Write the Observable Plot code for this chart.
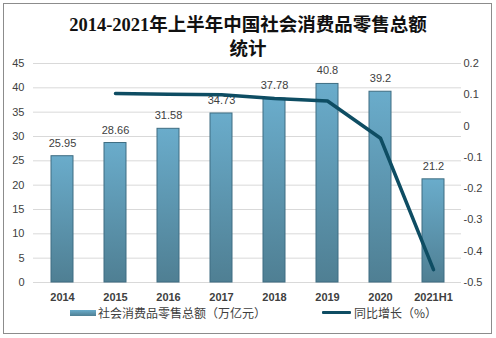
<!DOCTYPE html>
<html>
<head>
<meta charset="utf-8">
<script src="https://cdn.jsdelivr.net/npm/d3@7"></script>
<script src="https://cdn.jsdelivr.net/npm/@observablehq/plot@0.6"></script>
<style>
  html, body { margin: 0; padding: 0; background: #fff; }
  body { width: 496px; height: 338px; position: relative; overflow: hidden; font-family: "Noto Sans CJK SC", "Liberation Sans", sans-serif; }
  #frame { position: absolute; left: 3px; top: 3px; width: 487px; height: 329px; border: 1px solid #8c8c8c; }
  #title { position: absolute; left: 0; top: 13px; width: 496px; text-align: center; font-family: "Liberation Serif", "Noto Sans CJK SC", serif; font-weight: bold; font-size: 18.5px; line-height: 24px; color: #111; }
  #chart { position: absolute; left: 0; top: 50px; }
  .legend { position: absolute; top: 304px; font-size: 12px; color: #404040; line-height: 18px; white-space: nowrap; }
  .sw-bar { position: absolute; left: 70px; top: 310px; width: 26px; height: 6px; background: linear-gradient(#6aaccb, #4f7f93); border: 0; }
  .sw-line { position: absolute; left: 322px; top: 311px; width: 29px; height: 3px; background: #0e4d63; border-radius: 1px; }
</style>
</head>
<body>
<div id="frame"></div>
<div id="title">2014-2021年上半年中国社会消费品零售总额<br>统计</div>
<div id="chart"></div>
<div class="sw-bar"></div>
<div class="legend" style="left:98px">社会消费品零售总额（万亿元）</div>
<div class="sw-line"></div>
<div class="legend" style="left:354px">同比增长（%）</div>
<script>
const categories = ["2014", "2015", "2016", "2017", "2018", "2019", "2020", "2021H1"];
const totals = [25.95, 28.66, 31.58, 34.73, 37.78, 40.8, 39.2, 21.2];
const growthCats = ["2015", "2016", "2017", "2018", "2019", "2020", "2021H1"];
const growth = [0.104, 0.102, 0.100, 0.088, 0.080, -0.039, -0.459];
const leftTicks = [0, 5, 10, 15, 20, 25, 30, 35, 40, 45];
const rightTicks = [-0.5, -0.4, -0.3, -0.2, -0.1, 0, 0.1, 0.2];
const rightLabels = ["-0.5", "-0.4", "-0.3", "-0.2", "-0.1", "0", "0.1", "0.2"];

// map right-axis domain [-0.5, 0.2] onto left-axis domain [0, 45]
const toLeft = g => (g + 0.5) / 0.7 * 45;

const barData = categories.map((c, i) => ({cat: c, value: totals[i]}));
const lineData = growthCats.map((c, i) => ({cat: c, g: growth[i], y: toLeft(growth[i])}));

const plot = Plot.plot({
  width: 496,
  height: 260,
  marginTop: 13,
  marginBottom: 28,
  marginLeft: 33,
  marginRight: 35,
  style: {fontFamily: "'Liberation Sans', 'Noto Sans', sans-serif", fontSize: "11px", color: "#404040", background: "transparent", overflow: "visible"},
  x: {domain: categories, paddingInner: 0.586, paddingOuter: 0.32, label: null},
  y: {domain: [0, 45], label: null},
  marks: [
    Plot.gridY(leftTicks, {stroke: "#d9d9d9", strokeOpacity: 1}),
    Plot.barY(barData, {x: "cat", y: "value", fill: "url(#barGrad)", stroke: "#3e6d82", strokeWidth: 1}),
    Plot.text(barData, {x: "cat", y: "value", text: d => String(d.value), dy: -13, fill: "#404040", fontSize: 11}),
    Plot.lineY(lineData, {x: "cat", y: "y", stroke: "#0e4d63", strokeWidth: 3.5, strokeLinejoin: "round", strokeLinecap: "round"}),
    Plot.axisX({tickSize: 0, tickPadding: 11, fontWeight: "bold", fill: "#404040", label: null}),
    Plot.axisY({ticks: leftTicks, tickSize: 0, tickPadding: 9, label: null, fill: "#404040"}),
    Plot.axisY({anchor: "right", ticks: rightTicks.map(toLeft), tickFormat: (v, i) => rightLabels[i], tickSize: 0, tickPadding: 2, label: null, fill: "#404040"})
  ]
});

const ns = "http://www.w3.org/2000/svg";
const defs = document.createElementNS(ns, "defs");
const grad = document.createElementNS(ns, "linearGradient");
grad.setAttribute("id", "barGrad");
grad.setAttribute("x1", "0"); grad.setAttribute("y1", "0");
grad.setAttribute("x2", "0"); grad.setAttribute("y2", "1");
[["0%", "#6aaccb"], ["100%", "#4f7f93"]].forEach(([o, c]) => {
  const s = document.createElementNS(ns, "stop");
  s.setAttribute("offset", o); s.setAttribute("stop-color", c);
  grad.appendChild(s);
});
defs.appendChild(grad);
plot.insertBefore(defs, plot.firstChild);
document.getElementById("chart").appendChild(plot);
</script>
</body>
</html>
